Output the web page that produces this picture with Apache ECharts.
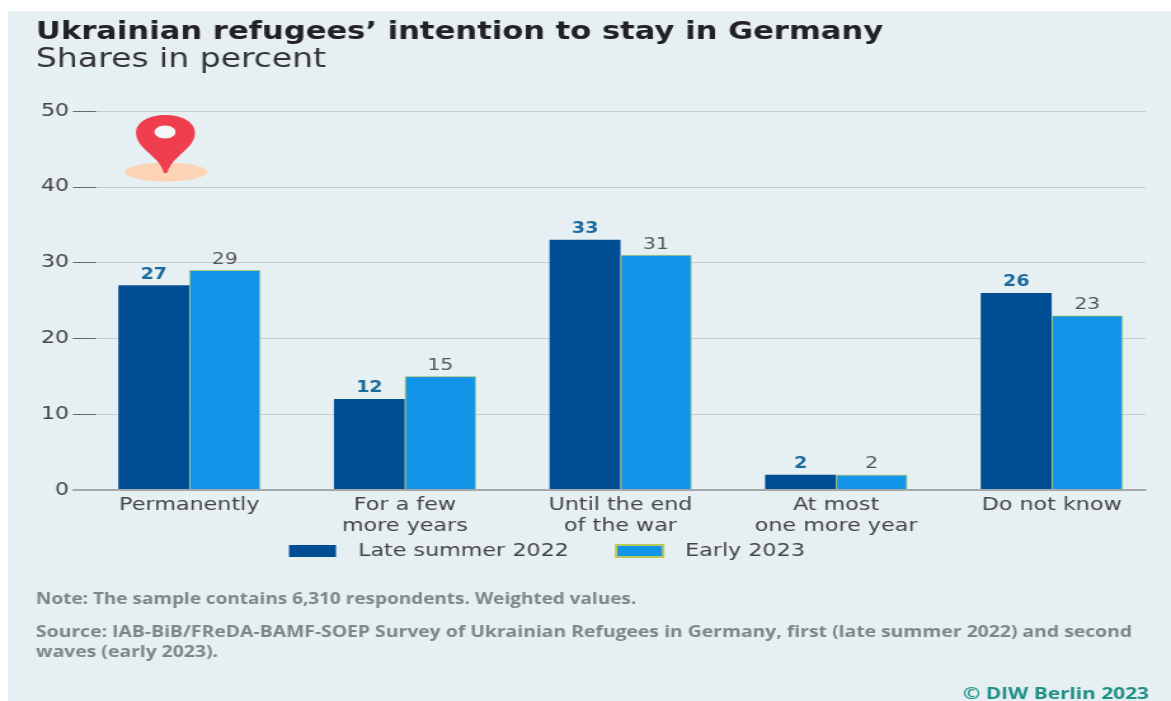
<!DOCTYPE html>
<html>
<head>
<meta charset="utf-8">
<style>
html,body{margin:0;padding:0;background:#fff;width:100%;height:100%;overflow:hidden}
#panel{position:absolute;left:8px;top:11px;width:1163px;height:690px;background:#e6eff2}
/* The whole chart is set in an extended width: drawn narrower, then widened. */
#chart{position:absolute;left:0;top:0;width:922px;height:701px;transform:scaleX(1.27);transform-origin:0 0}
</style>
<script src="https://cdn.jsdelivr.net/npm/echarts@6/dist/echarts.min.js"></script>
</head>
<body>
<div id="panel"></div>
<div id="chart"></div>
<script>
const categories = ['Permanently', 'For a few\nmore years', 'Until the end\nof the war', 'At most\none more year', 'Do not know'];
const lateSummer2022 = [27, 12, 33, 2, 26];
const early2023 = [29, 15, 31, 2, 23];
const yTicks = [0, 10, 20, 30, 40, 50];

const FONT = '"DejaVu Sans"';
const NOTE_FONT = '"Open Sans"';
const WIDEN = 1.27;
const px = v => v / WIDEN;

const chart = echarts.init(document.getElementById('chart'), null, {renderer: 'canvas'});

// Map-pin outline used in the decorative marker.
echarts.graphic.registerShape('mapPin', echarts.graphic.extendShape({
  buildPath(ctx) {
    ctx.moveTo(px(165.5), 115);
    ctx.bezierCurveTo(px(149), 115, px(136), 122, px(136), 133);
    ctx.bezierCurveTo(px(136), 143, px(146), 150, px(153), 157);
    ctx.bezierCurveTo(px(159), 162, px(162), 167, px(164), 173);
    ctx.lineTo(px(167), 173);
    ctx.bezierCurveTo(px(169), 167, px(172), 162, px(178), 157);
    ctx.bezierCurveTo(px(185), 150, px(195), 143, px(195), 133);
    ctx.bezierCurveTo(px(195), 122, px(182), 115, px(165.5), 115);
    ctx.closePath();
  }
}));

function caption(text, x, y, size, color, weight, lineHeight, family, scaleX) {
  return {
    type: 'text', x: px(x), y, scaleX: scaleX || 1, z: 10,
    style: {text, fontFamily: family || FONT, fontSize: size, fill: color, fontWeight: weight, lineHeight: lineHeight || size * 1.2, textVerticalAlign: 'top'}
  };
}

chart.setOption({
  animation: false,
  backgroundColor: 'transparent',
  legend: {
    left: px(289) - 5, top: 537, itemWidth: px(47), itemHeight: 12, itemGap: px(46),
    icon: 'rect',
    textStyle: {fontFamily: FONT, fontSize: 17.5, color: '#444', padding: [0, 0, 0, px(22) - 5]},
    data: ['Late summer 2022', 'Early 2023']
  },
  // Two grids: one carries the rule lines and ticks, the other the bars and category labels.
  grid: [
    {left: px(73), top: 111, width: px(1073), height: 379},
    {left: px(81.5), top: 111, width: px(1078), height: 379}
  ],
  xAxis: [
    {type: 'value', gridIndex: 0, min: 0, max: 1, show: false},
    {
      type: 'category', gridIndex: 1, data: categories,
      axisLine: {show: false}, axisTick: {show: false},
      axisLabel: {fontFamily: FONT, fontSize: 17.5, color: '#444', lineHeight: 21, margin: 5, interval: 0}
    }
  ],
  yAxis: [
    {
      type: 'value', gridIndex: 0, min: 0, max: 50, interval: 10,
      axisLine: {show: false},
      axisTick: {show: true, inside: true, length: px(23), lineStyle: {color: '#666', width: 1}},
      axisLabel: {
        fontFamily: FONT, fontSize: 17.5, color: '#444', margin: 3,
        verticalAlign: 'middle', lineHeight: 20, padding: [4, 0, 0, 0],
        formatter: v => yTicks.includes(v) ? String(v) : ''
      },
      splitLine: {show: true, lineStyle: {color: '#c6cdd0', width: 1}}
    },
    {type: 'value', gridIndex: 1, min: 0, max: 50, interval: 10, show: false}
  ],
  series: [
    {
      name: 'Late summer 2022', type: 'bar', xAxisIndex: 1, yAxisIndex: 1,
      data: lateSummer2022, barWidth: px(71), barGap: '0%', z: 3,
      itemStyle: {color: '#004d94'},
      label: {show: true, position: 'top', distance: 3, fontFamily: FONT, fontSize: 15, fontWeight: 'bold', color: '#1b6a9c'}
    },
    {
      name: 'Early 2023', type: 'bar', xAxisIndex: 1, yAxisIndex: 1,
      data: early2023, barWidth: px(71), z: 3,
      itemStyle: {color: '#1295e8', borderColor: '#b8c95a', borderWidth: 0.7},
      label: {show: true, position: 'top', distance: 2.5, fontFamily: FONT, fontSize: 16, color: '#555'}
    },
    {
      // Heavier zero line running the full width of the rule grid.
      type: 'line', xAxisIndex: 0, yAxisIndex: 0, data: [[0, 0], [1, 0]],
      symbol: 'none', silent: true, z: 4, lineStyle: {color: '#a3a8aa', width: 2}
    }
  ],
  graphic: [
    caption('Ukrainian refugees’ intention to stay in Germany', 36, 18, 24.1, '#222226', 'bold', 30),
    caption('Shares in percent', 36, 45, 26, '#333338', 'normal', 30),
    caption('Note: The sample contains 6,310 respondents. Weighted values.', 36, 589, 16, '#7d8589', 'bold', 20, NOTE_FONT, 0.933),
    caption('Source: IAB-BiB/FReDA-BAMF-SOEP Survey of Ukrainian Refugees in Germany, first (late summer 2022) and second\nwaves (early 2023).', 36, 622, 16, '#7d8589', 'bold', 20, NOTE_FONT, 0.952),
    caption('© DIW Berlin 2023', 963, 685, 16, '#1f8f86', 'bold', 18, NOTE_FONT, 1.026),
    {type: 'ellipse', z: 1, shape: {cx: px(166), cy: 172, rx: px(41), ry: 9.5}, style: {fill: '#fcd3b4'}},
    {type: 'mapPin', z: 2, shape: {}, style: {fill: '#ef3f4f'}},
    {type: 'ellipse', z: 3, shape: {cx: px(165), cy: 132, rx: px(10.5), ry: 6.5}, style: {fill: '#f4f7f7'}}
  ]
});
</script>
</body>
</html>
